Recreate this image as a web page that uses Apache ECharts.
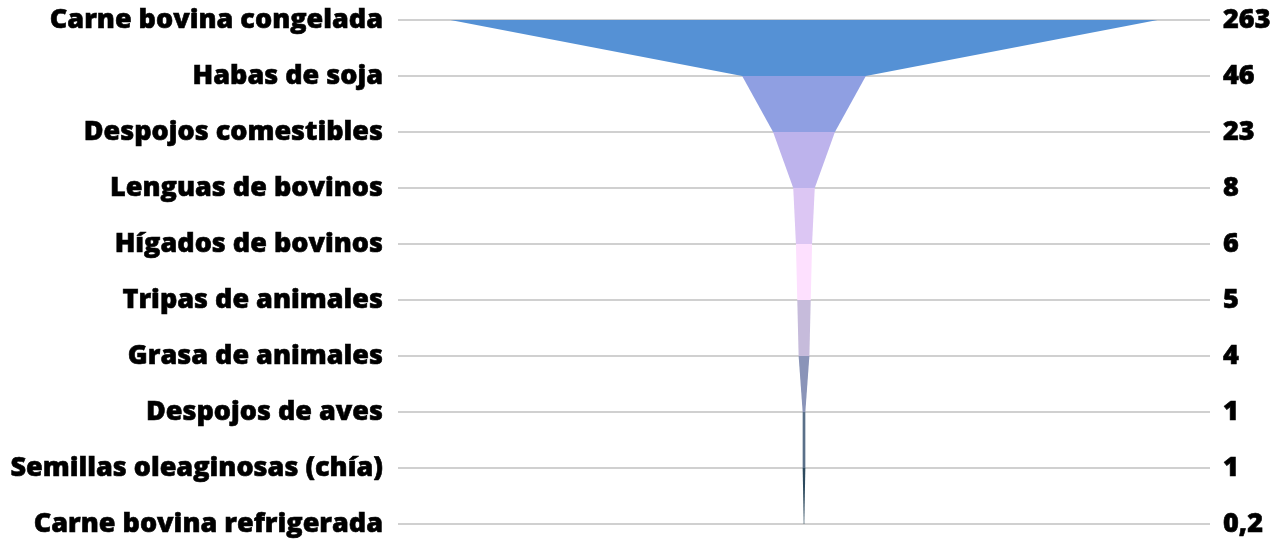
<!DOCTYPE html>
<html>
<head>
<meta charset="utf-8">
<script src="https://cdn.jsdelivr.net/npm/echarts@6/dist/echarts.min.js"></script>
<style>html,body{margin:0;padding:0;background:#fff;}#c{width:1282px;height:542px;}</style>
</head>
<body>
<div id="c"></div>
<script>
const categories = ["Carne bovina congelada","Habas de soja","Despojos comestibles","Lenguas de bovinos","Hígados de bovinos","Tripas de animales","Grasa de animales","Despojos de aves","Semillas oleaginosas (chía)","Carne bovina refrigerada"];
const values = [263, 46, 23, 8, 6, 5, 4, 1, 1, 0.2];
const valueLabels = ["263","46","23","8","6","5","4","1","1","0,2"];
const segmentColors = ["#5591d5","#8f9fe2","#bdb3ec","#dcc6f3","#fde0fe","#c6bbdb","#8a94b8","#5a7089","#2d4a5e"];

const segData = [];
for (let i = 0; i < values.length - 1; i++) segData.push([i, values[i], values[i+1]]);

const chart = echarts.init(document.getElementById('c'), null, {renderer:'canvas'});
const labelStyle = {fontFamily:'Open Sans', fontWeight:800, fontSize:27, color:'#000', padding:[4,0,0,0],
                    textBorderColor:'#000', textBorderWidth:0.6};
chart.setOption({
  animation:false,
  grid:{left:398, right:72, top:20, bottom:18, containLabel:false},
  xAxis:{type:'value', min:-151, max:151, show:false},
  yAxis:[
    {type:'category', inverse:true, boundaryGap:false, data:categories,
     axisLine:{show:false}, axisTick:{show:false},
     axisLabel:Object.assign({margin:15}, labelStyle),
     splitLine:{show:true, lineStyle:{color:'#c0c0c0', width:1.5}}},
    {type:'category', inverse:true, boundaryGap:false, data:valueLabels, position:'right',
     axisLine:{show:false}, axisTick:{show:false},
     axisLabel:Object.assign({margin:13, align:'left'}, labelStyle),
     splitLine:{show:false}}
  ],
  series:[{
    type:'custom',
    data:segData,
    encode:{x:[1,2], y:0},
    renderItem:function(params, api){
      const i = api.value(0), v0 = api.value(1), v1 = api.value(2);
      const p1 = api.coord([-v0/2, i]);
      const p2 = api.coord([v0/2, i]);
      const p3 = api.coord([v1/2, i+1]);
      const p4 = api.coord([-v1/2, i+1]);
      return {type:'polygon', shape:{points:[p1,p2,p3,p4]},
              style:{fill:segmentColors[params.dataIndex]}};
    }
  }]
});
</script>
</body>
</html>
